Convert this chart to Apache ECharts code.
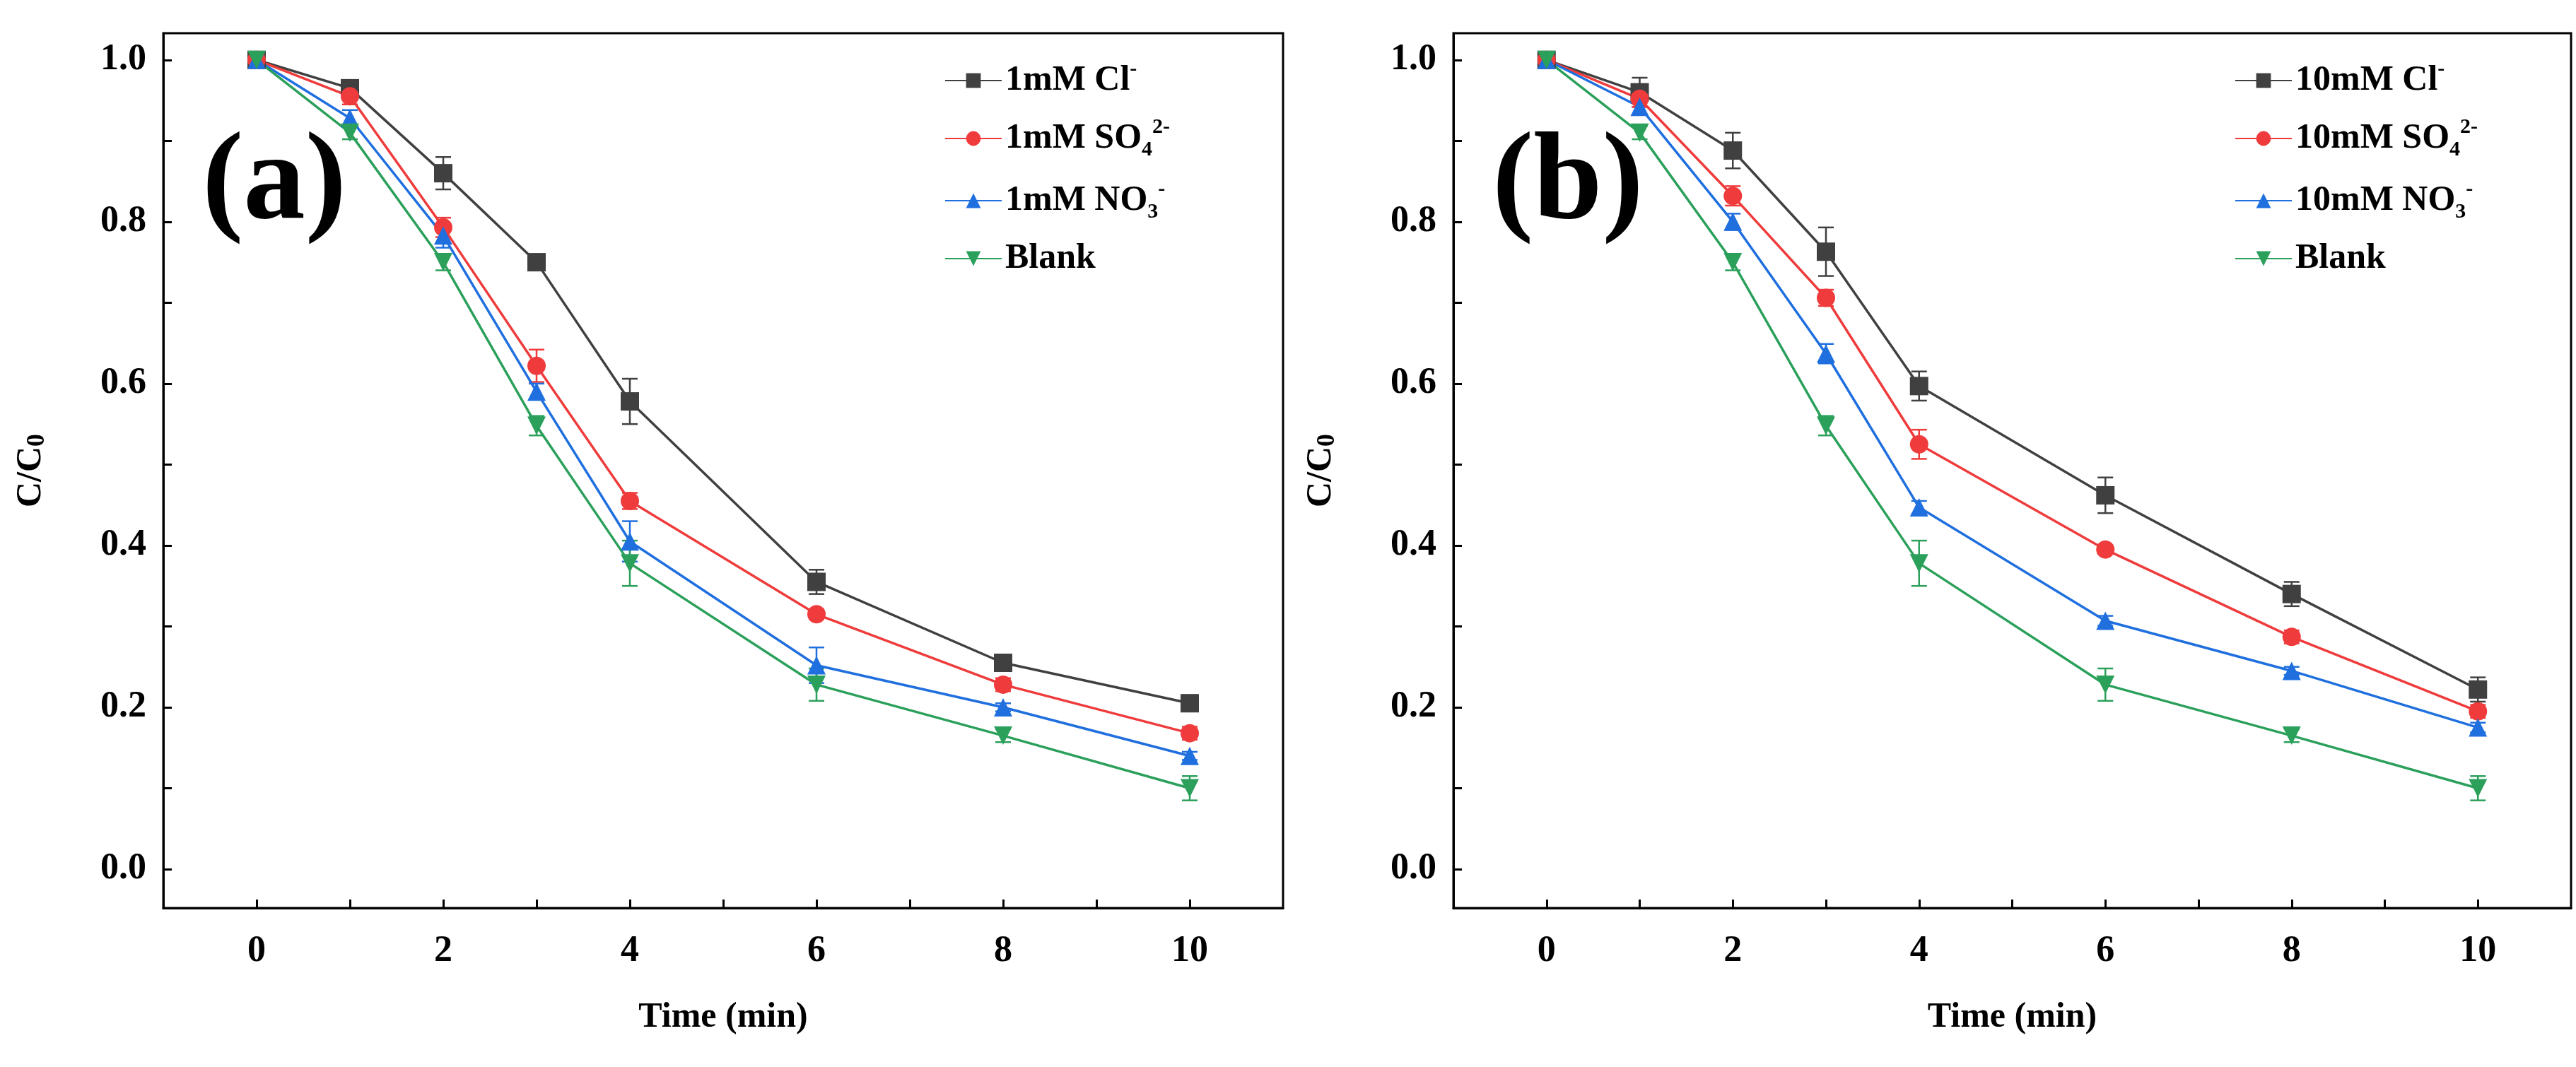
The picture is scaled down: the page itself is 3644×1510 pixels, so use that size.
<!DOCTYPE html>
<html><head><meta charset="utf-8">
<script src="https://cdn.jsdelivr.net/npm/echarts@6/dist/echarts.min.js"></script>
<style>html,body{margin:0;background:#fff}#c{width:3644px;height:1510px}</style>
</head><body><div id="c"></div>
<script>
const times = [0,1,2,3,4,6,8,10];
const xTickValues = [0,1,2,3,4,5,6,7,8,9,10];
const xLabelValues = [0,2,4,6,8,10];
const yTickValues = [0,0.1,0.2,0.3,0.4,0.5,0.6,0.7,0.8,0.9,1.0];
const yLabelValues = [0,0.2,0.4,0.6,0.8,1.0];

const aCl = [1,0.965,0.86,0.75,0.578,0.355,0.255,0.205];
const aClErr = [0,0.01,0.02,0.005,0.028,0.015,0.008,0.01];
const aSO4 = [1,0.955,0.793,0.622,0.455,0.315,0.228,0.168];
const aSO4Err = [0,0.01,0.012,0.02,0.01,0.006,0.008,0.008];
const aNO3 = [1,0.928,0.783,0.59,0.405,0.252,0.2,0.14];
const aNO3Err = [0,0.01,0.015,0.01,0.025,0.022,0.005,0.005];
const blank = [1,0.91,0.75,0.548,0.378,0.228,0.165,0.1];
const blankErr = [0,0.008,0.01,0.012,0.028,0.02,0.008,0.015];

const bCl = [1,0.96,0.888,0.763,0.597,0.462,0.34,0.222];
const bClErr = [0,0.018,0.022,0.03,0.018,0.022,0.015,0.015];
const bSO4 = [1,0.952,0.832,0.706,0.525,0.395,0.287,0.195];
const bSO4Err = [0,0.01,0.012,0.01,0.018,0.005,0.008,0.008];
const bNO3 = [1,0.942,0.8,0.637,0.447,0.307,0.245,0.175];
const bNO3Err = [0,0.01,0.01,0.012,0.008,0.006,0.005,0.006];

const colors = ['#404040','#ef3b3b','#1f6fdf','#2ba05b'];
const symbols = ['rect','circle','triangle','triangle'];
const rotations = [0,0,0,180];
const FONT = 'Liberation Serif';

const panels = [
  {names:['1mM Cl-','1mM SO4','1mM NO3','Blank'], vals:[aCl,aSO4,aNO3,blank], errs:[aClErr,aSO4Err,aNO3Err,blankErr], letter:'(a)'},
  {names:['10mM Cl-','10mM SO4','10mM NO3','Blank '], vals:[bCl,bSO4,bNO3,blank], errs:[bClErr,bSO4Err,bNO3Err,blankErr], letter:'(b)'}
];
const gridPos = [{left:231,width:1584,top:47,height:1238},{left:2056,width:1581,top:47,height:1238}];

const rich = {
  t:{fontFamily:FONT,fontWeight:'bold',fontSize:50,color:'#000',lineHeight:62},
  sup:{fontFamily:FONT,fontWeight:'bold',fontSize:30,color:'#000',verticalAlign:'top',lineHeight:62,padding:[0,0,20,0]},
  sub:{fontFamily:FONT,fontWeight:'bold',fontSize:30,color:'#000',verticalAlign:'bottom',lineHeight:62,padding:[20,0,0,0]}
};
function legendFmt(n){
  const pre = n.startsWith('10mM') ? '10mM ' : '1mM ';
  if (n.endsWith('Cl-')) return '{t|'+pre+'Cl}{sup|-}';
  if (n.endsWith('SO4')) return '{t|'+pre+'SO}{sub|4}{sup|2-}';
  if (n.endsWith('NO3')) return '{t|'+pre+'NO}{sub|3}{sup|-}';
  return '{t|Blank}';
}

const grid=[],xAxis=[],yAxis=[],series=[],legend=[],graphic=[];
panels.forEach((p,pi)=>{
  grid.push(Object.assign({show:true,borderColor:'#000',borderWidth:3,backgroundColor:'transparent'},gridPos[pi]));
  xAxis.push({type:'value',gridIndex:pi,min:-1,max:11,
    name:'Time (min)',nameLocation:'middle',nameGap:130,
    nameTextStyle:{fontFamily:FONT,fontWeight:'bold',fontSize:50,color:'#000'},
    axisLine:{onZero:false,lineStyle:{color:'#000',width:3}},
    axisTick:{inside:true,length:12,lineStyle:{width:3,color:'#000'},customValues:xTickValues},
    axisLabel:{customValues:xLabelValues,fontFamily:FONT,fontWeight:'bold',fontSize:52,color:'#000',margin:36},
    splitLine:{show:false}});
  yAxis.push({type:'value',gridIndex:pi,min:-0.048,max:1.033,
    name:'{m|C/C}{s|0}',nameLocation:'middle',nameGap:160,nameRotate:90,
    nameTextStyle:{rich:{m:{fontFamily:FONT,fontWeight:'bold',fontSize:50,color:'#000'},s:{fontFamily:FONT,fontWeight:'bold',fontSize:36,color:'#000',padding:[18,0,0,0]}}},
    axisLine:{onZero:false,lineStyle:{color:'#000',width:3}},
    axisTick:{inside:true,length:12,lineStyle:{width:3,color:'#000'},customValues:yTickValues},
    axisLabel:{customValues:yLabelValues,formatter:v=>v.toFixed(1),fontFamily:FONT,fontWeight:'bold',fontSize:52,color:'#000',margin:24},
    splitLine:{show:false}});
  const sNames=[];
  p.vals.forEach((v,si)=>{
    const name = p.names[si];
    sNames.push(name);
    series.push({type:'line',name,xAxisIndex:pi,yAxisIndex:pi,data:times.map((t,i)=>[t,v[i]]),
      symbol:symbols[si],symbolRotate:rotations[si],symbolSize:26,z:3,
      lineStyle:{color:colors[si],width:3.5},itemStyle:{color:colors[si]}});
    const err = p.errs[si];
    series.push({type:'custom',xAxisIndex:pi,yAxisIndex:pi,z:2,silent:true,
      data:times.map((t,i)=>[t,v[i],err[i]]),
      renderItem:(params,api)=>{
        const x=api.value(0),y=api.value(1),e=api.value(2);
        if(!e) return null;
        const top=api.coord([x,y+e]),bot=api.coord([x,y-e]);
        const w=11;
        const st={stroke:colors[si],lineWidth:2.5};
        return {type:'group',children:[
          {type:'line',shape:{x1:top[0],y1:top[1],x2:bot[0],y2:bot[1]},style:st},
          {type:'line',shape:{x1:top[0]-w,y1:top[1],x2:top[0]+w,y2:top[1]},style:st},
          {type:'line',shape:{x1:bot[0]-w,y1:bot[1],x2:bot[0]+w,y2:bot[1]},style:st}]};
      }});
  });
  legend.push({data:sNames,orient:'vertical',left:gridPos[pi].left+1100,top:78,itemWidth:80,itemHeight:26,itemGap:26,
    formatter:legendFmt,textStyle:{rich}});
  graphic.push({type:'text',left:gridPos[pi].left+55,top:175,style:{text:p.letter,font:'bold 175px "Liberation Serif"',fill:'#000'}});
});
const chart=echarts.init(document.getElementById('c'));
chart.setOption({animation:false,grid,xAxis,yAxis,series,legend,graphic});
</script></body></html>
